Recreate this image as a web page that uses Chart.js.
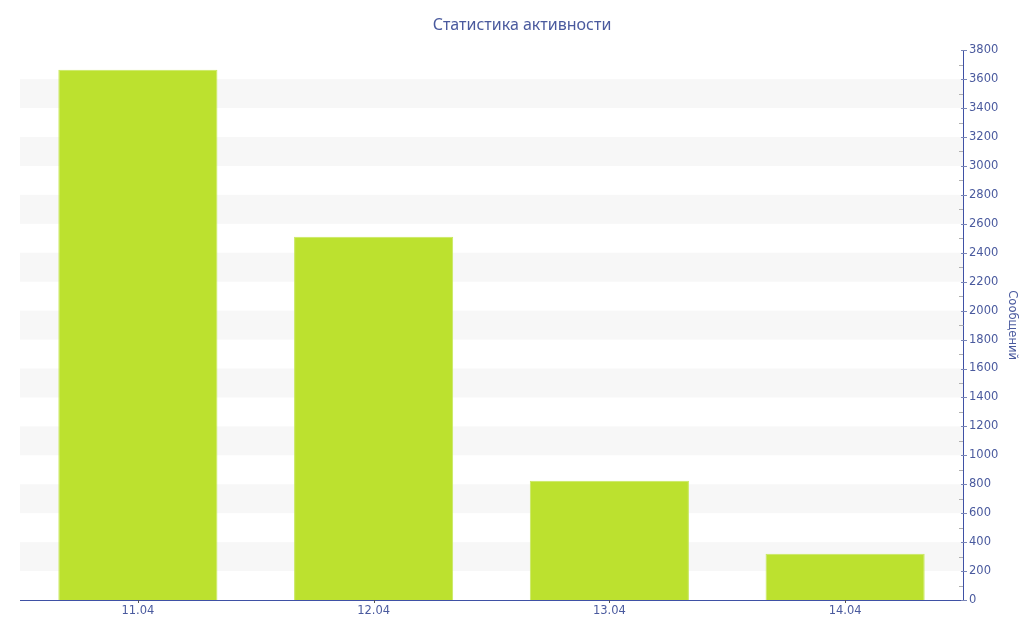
<!DOCTYPE html>
<html>
<head>
<meta charset="utf-8">
<script src="https://cdn.jsdelivr.net/npm/chart.js@4"></script>
<style>
  html, body { margin: 0; padding: 0; background: #fff; }
  #wrap { width: 1024px; height: 640px; }
</style>
</head>
<body>
<div id="wrap"><canvas id="chart"></canvas></div>
<script>
// data
const days = ["11.04", "12.04", "13.04", "14.04"];
const messages = [3665, 2510, 825, 320];
const yMax = 3800;
const yStep = 200;

const blue = "#3f51a5";
const textBlue = "#4a5a9e";

// grey bands every other step + tick marks on the right axis
const decor = {
  id: "decor",
  beforeDatasetsDraw(chart) {
    const { ctx, chartArea, scales } = chart;
    const y = scales.y;
    ctx.save();
    ctx.fillStyle = "#f7f7f7";
    for (let v = yStep; v < yMax; v += yStep * 2) {
      const top = y.getPixelForValue(v + yStep);
      const bot = y.getPixelForValue(v);
      ctx.fillRect(chartArea.left, top, chartArea.right - chartArea.left, bot - top);
    }
    ctx.restore();
  },
  afterDraw(chart) {
    const { ctx, chartArea, scales } = chart;
    const y = scales.y, x = scales.x;
    const ax = chartArea.right;
    ctx.save();
    ctx.lineWidth = 1;
    // minor ticks
    ctx.strokeStyle = "#b0b0b0";
    for (let v = yStep / 2; v < yMax; v += yStep) {
      const py = Math.round(y.getPixelForValue(v)) + 0.5;
      ctx.beginPath();
      ctx.moveTo(ax - 4, py);
      ctx.lineTo(ax, py);
      ctx.stroke();
    }
    // major ticks
    ctx.strokeStyle = "#7a86b8";
    for (let v = 0; v <= yMax; v += yStep) {
      const py = Math.round(y.getPixelForValue(v)) + 0.5;
      ctx.beginPath();
      ctx.moveTo(ax - 2, py);
      ctx.lineTo(ax + 4, py);
      ctx.stroke();
    }
    // x ticks
    ctx.strokeStyle = "#555";
    days.forEach((d, i) => {
      const px = Math.round(x.getPixelForValue(i)) + 0.5;
      ctx.beginPath();
      ctx.moveTo(px, chartArea.bottom);
      ctx.lineTo(px, chartArea.bottom + 3);
      ctx.stroke();
    });
    ctx.restore();
  }
};

new Chart(document.getElementById("chart"), {
  type: "bar",
  data: {
    labels: days,
    datasets: [{
      label: "Сообщений",
      data: messages,
      backgroundColor: "#bce12f",
      borderColor: "#c8e85e",
      borderWidth: 1,
      categoryPercentage: 1,
      barPercentage: 0.675
    }]
  },
  options: {
    responsive: true,
    maintainAspectRatio: false,
    animation: false,
    layout: { padding: { left: 20, right: 0, top: 0, bottom: 0 } },
    plugins: {
      legend: { display: false },
      tooltip: { enabled: false },
      title: {
        display: true,
        text: "Статистика активности",
        color: textBlue,
        font: { family: "Noto Sans", size: 16, weight: "normal", lineHeight: 1.2 },
        padding: { top: 16, bottom: 15 }
      }
    },
    scales: {
      x: {
        grid: { display: false, tickLength: 0 },
        border: { display: true, color: blue, width: 1 },
        ticks: {
          color: textBlue,
          padding: 4,
          font: { family: "DejaVu Sans", size: 11.5 }
        },
        afterFit(s) { s.height = 40; }
      },
      y: {
        position: "right",
        min: 0,
        max: yMax,
        grid: { display: false, tickLength: 0 },
        border: { display: true, color: blue, width: 1 },
        ticks: {
          stepSize: yStep,
          autoSkip: false,
          color: textBlue,
          padding: 6,
          font: { family: "DejaVu Sans", size: 11.5 },
          callback: (v) => String(v)
        },
        title: {
          display: true,
          text: "Сообщений",
          color: textBlue,
          padding: { top: 5, bottom: 0 },
          font: { family: "DejaVu Sans", size: 11.5 }
        },
        afterFit(s) { s.width = 61; }
      }
    }
  },
  plugins: [decor]
});
</script>
</body>
</html>
